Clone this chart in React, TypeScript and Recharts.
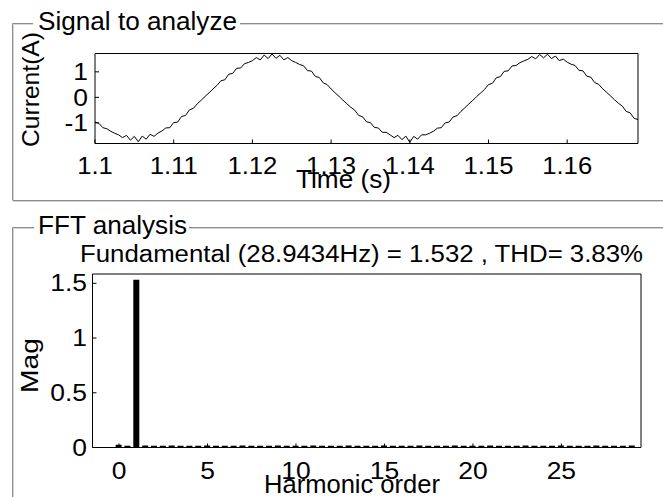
import { LineChart, Line, BarChart, Bar, XAxis, YAxis } from "recharts";

const FONT = "'Liberation Sans', Arial, sans-serif";

// signal window, sampled every 0.5 ms from 1.1 s
const signalStart = 1.1;
const sampleStep = 0.0005;
const current = [
  -0.97, -1.02, -1.19, -1.23, -1.33, -1.41, -1.47, -1.58, -1.49, -1.68,
  -1.53, -1.74, -1.52, -1.64, -1.45, -1.53, -1.4, -1.32, -1.2, -1.19,
  -0.99, -0.97, -0.75, -0.71, -0.49, -0.43, -0.25, -0.11, 0.04, 0.18,
  0.33, 0.47, 0.65, 0.69, 0.91, 0.94, 1.14, 1.15, 1.32, 1.37,
  1.44, 1.56, 1.47, 1.66, 1.52, 1.7, 1.53, 1.65, 1.47, 1.56,
  1.44, 1.37, 1.29, 1.24, 1.05, 1.03, 0.82, 0.78, 0.57, 0.5,
  0.33, 0.18, 0.04, -0.11, -0.25, -0.39, -0.5, -0.71, -0.76, -0.96,
  -0.99, -1.18, -1.2, -1.37, -1.37, -1.47, -1.58, -1.49, -1.66, -1.52,
  -1.76, -1.53, -1.64, -1.47, -1.47, -1.41, -1.33, -1.21, -1.19, -1.0,
  -0.97, -0.77, -0.72, -0.55, -0.41, -0.26, -0.12, 0.03, 0.17, 0.31,
  0.5, 0.55, 0.77, 0.81, 1.02, 1.04, 1.23, 1.25, 1.36, 1.43,
  1.49, 1.6, 1.51, 1.68, 1.55, 1.69, 1.52, 1.62, 1.44, 1.5,
  1.38, 1.3, 1.25, 1.06, 1.04, 0.83, 0.79, 0.58, 0.51, 0.34,
  0.2, 0.06, -0.09, -0.23, -0.34, -0.55, -0.61, -0.82, -0.87,
];
const timeTicks = [1.1, 1.11, 1.12, 1.13, 1.14, 1.15, 1.16];
const currentTicks = [-1, 0, 1];

const harmonicOrder = [
  0, 0.5, 1, 1.5, 2, 2.5, 3, 3.5, 4, 4.5, 5, 5.5, 6, 6.5, 7, 7.5, 8, 8.5, 9, 9.5,
  10, 10.5, 11, 11.5, 12, 12.5, 13, 13.5, 14, 14.5, 15, 15.5, 16, 16.5, 17, 17.5,
  18, 18.5, 19, 19.5, 20, 20.5, 21, 21.5, 22, 22.5, 23, 23.5, 24, 24.5, 25, 25.5,
  26, 26.5, 27, 27.5, 28, 28.5, 29,
];
const magnitude = [
  0.026, 0.017, 1.532, 0.018, 0.016, 0.017, 0.018, 0.016, 0.017, 0.016, 0.018, 0.017,
  0.016, 0.017, 0.018, 0.016, 0.017, 0.016, 0.018, 0.017, 0.016, 0.017, 0.018, 0.016,
  0.017, 0.016, 0.018, 0.017, 0.016, 0.017, 0.018, 0.016, 0.017, 0.016, 0.018, 0.017,
  0.016, 0.017, 0.018, 0.016, 0.017, 0.016, 0.018, 0.017, 0.016, 0.017, 0.018, 0.016,
  0.017, 0.016, 0.018, 0.017, 0.016, 0.017, 0.018, 0.016, 0.017, 0.016, 0.018,
];
const orderTicks = [0, 5, 10, 15, 20, 25];
const magTicks = [0, 0.5, 1, 1.5];

const signalData = current.map((v, i) => ({
  time: +(signalStart + i * sampleStep).toFixed(4),
  current: v,
}));
const fftData = harmonicOrder.map((h, i) => ({ order: h, mag: magnitude[i] }));

const black = { stroke: "#000" };

// tick label drawn a little wider than the font, like the reference
function Tick(props: any) {
  const { x, y, payload, textAnchor, size, sx, va } = props;
  const dy = va === "start" ? size * 0.71 : size * 0.355;
  return (
    <g transform={`translate(${x},${y}) scale(${sx},1)`}>
      <text
        x={0}
        y={0}
        dy={dy}
        textAnchor={textAnchor}
        fontSize={size}
        fontFamily={FONT}
        fill="#000"
      >
        {payload.value}
      </text>
    </g>
  );
}

function Frames() {
  const line = "#8c8c8c";
  const shade = "#d4d4d4";
  return (
    <svg
      width={663}
      height={497}
      style={{ position: "absolute", left: 0, top: 0, pointerEvents: "none" }}
    >
      {/* signal panel */}
      <path d="M12.5 200 V23.5 H33 M240 23.5 H663 M12.5 200.5 H663" stroke={line} fill="none" />
      <path d="M13.5 200 V24.5 H33 M240 24.5 H663 M13 201.5 H663" stroke={shade} fill="none" />
      {/* fft panel */}
      <path d="M12.5 497 V227.5 H34 M189 227.5 H663" stroke={line} fill="none" />
      <path d="M13.5 497 V228.5 H34 M189 228.5 H663" stroke={shade} fill="none" />
      <g fontFamily={FONT} fill="#000">
        <text x={38} y={30} fontSize={25} textLength={199} lengthAdjust="spacingAndGlyphs">
          Signal to analyze
        </text>
        <text x={38} y={234} fontSize={25} textLength={149} lengthAdjust="spacingAndGlyphs">
          FFT analysis
        </text>
        <text x={361.5} y={262} fontSize={23} textAnchor="middle" textLength={563} lengthAdjust="spacingAndGlyphs">
          Fundamental (28.9434Hz) = 1.532 , THD= 3.83%
        </text>
        <text x={343.5} y={188} fontSize={25} textAnchor="middle" textLength={95} lengthAdjust="spacingAndGlyphs">
          Time (s)
        </text>
        <text x={352} y={493} fontSize={25} textAnchor="middle" textLength={176} lengthAdjust="spacingAndGlyphs">
          Harmonic order
        </text>
        <text
          transform="translate(39,89.5) rotate(-90)"
          fontSize={24}
          textAnchor="middle"
          textLength={115}
          lengthAdjust="spacingAndGlyphs"
        >
          Current(A)
        </text>
        <text
          transform="translate(38,365.5) rotate(-90)"
          fontSize={24}
          textAnchor="middle"
          textLength={55}
          lengthAdjust="spacingAndGlyphs"
        >
          Mag
        </text>
      </g>
    </svg>
  );
}

export default function App() {
  return (
    <div
      style={{
        position: "absolute",
        left: 0,
        top: 0,
        width: 663,
        height: 497,
        background: "#fff",
        overflow: "hidden",
      }}
    >
      <div style={{ position: "absolute", left: 0, top: 0 }}>
        <LineChart
          width={663}
          height={200}
          data={signalData}
          margin={{ top: 52.5, right: 24, bottom: 0, left: 0 }}
        >
          <XAxis
            xAxisId="b"
            dataKey="time"
            type="number"
            domain={[1.1, 1.169]}
            ticks={timeTicks}
            interval={0}
            allowDataOverflow
            height={56.5}
            tickSize={-4}
            tickMargin={17}
            axisLine={black}
            tickLine={black}
            tick={(p: any) => <Tick {...p} size={24} sx={1.07} va="start" />}
          />
          <XAxis
            xAxisId="t"
            orientation="top"
            dataKey="time"
            type="number"
            domain={[1.1, 1.169]}
            ticks={timeTicks}
            interval={0}
            allowDataOverflow
            height={1}
            tickSize={-4}
            axisLine={black}
            tickLine={black}
            tick={false}
          />
          <YAxis
            yAxisId="l"
            type="number"
            domain={[-1.81, 1.72]}
            ticks={currentTicks}
            interval={0}
            allowDataOverflow
            width={95}
            tickSize={-4}
            tickMargin={11}
            axisLine={black}
            tickLine={black}
            tick={(p: any) => <Tick {...p} size={23} sx={1.15} va="middle" />}
          />
          <YAxis
            yAxisId="r"
            orientation="right"
            type="number"
            domain={[-1.81, 1.72]}
            ticks={currentTicks}
            interval={0}
            allowDataOverflow
            width={1}
            tickSize={-4}
            axisLine={black}
            tickLine={black}
            tick={false}
          />
          <Line
            xAxisId="b"
            yAxisId="l"
            type="linear"
            dataKey="current"
            stroke="#000"
            strokeWidth={1}
            dot={false}
            isAnimationActive={false}
          />
        </LineChart>
      </div>
      <div style={{ position: "absolute", left: 0, top: 200 }}>
        <BarChart
          width={663}
          height={297}
          data={fftData}
          margin={{ top: 73, right: 21, bottom: 0, left: 0 }}
        >
          <XAxis
            xAxisId="b"
            dataKey="order"
            type="number"
            domain={[-1.5, 29.5]}
            ticks={orderTicks}
            interval={0}
            allowDataOverflow
            height={49.5}
            tickSize={-4}
            tickMargin={19.5}
            axisLine={black}
            tickLine={black}
            tick={(p: any) => <Tick {...p} size={23} sx={1.15} va="start" />}
          />
          <XAxis
            xAxisId="t"
            orientation="top"
            dataKey="order"
            type="number"
            domain={[-1.5, 29.5]}
            ticks={orderTicks}
            interval={0}
            allowDataOverflow
            height={1}
            tickSize={-4}
            axisLine={black}
            tickLine={black}
            tick={false}
          />
          <YAxis
            yAxisId="l"
            type="number"
            domain={[0, 1.585]}
            ticks={magTicks}
            interval={0}
            allowDataOverflow
            width={92.5}
            tickSize={-4}
            tickMargin={9.5}
            axisLine={black}
            tickLine={black}
            tick={(p: any) => <Tick {...p} size={23} sx={1.15} va="middle" />}
          />
          <YAxis
            yAxisId="r"
            orientation="right"
            type="number"
            domain={[0, 1.585]}
            ticks={magTicks}
            interval={0}
            allowDataOverflow
            width={1}
            tickSize={-4}
            axisLine={black}
            tickLine={black}
            tick={false}
          />
          <Bar
            xAxisId="b"
            yAxisId="l"
            dataKey="mag"
            fill="#000"
            barSize={6}
            isAnimationActive={false}
          />
        </BarChart>
      </div>
      <Frames />
    </div>
  );
}
